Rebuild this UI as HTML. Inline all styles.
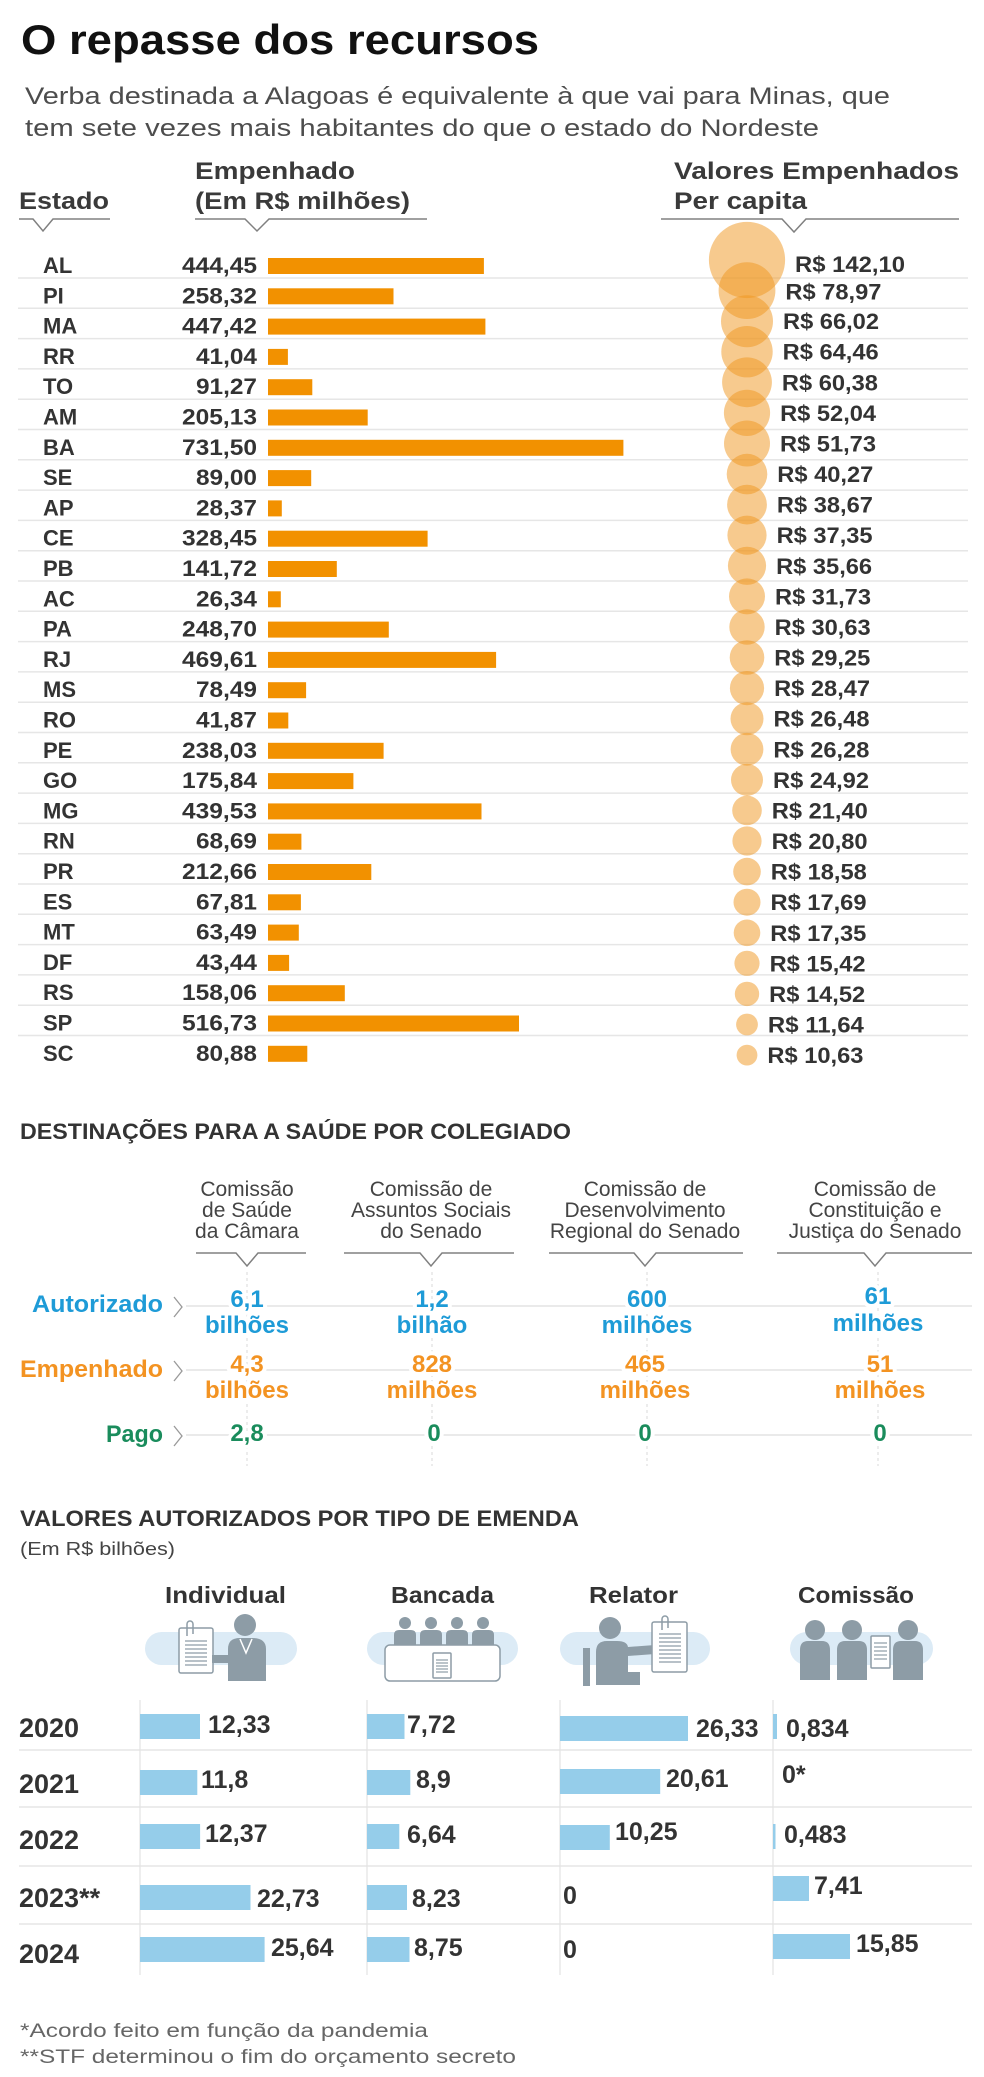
<!DOCTYPE html>
<html><head><meta charset="utf-8">
<style>
html,body{margin:0;padding:0;background:#fff;}
svg{display:block;}
text{font-family:"Liberation Sans",Arial,sans-serif;}
.b{font-weight:bold;}
.st{font-weight:bold;font-size:22px;fill:#333;}
.nm{font-weight:bold;font-size:22px;fill:#333;text-anchor:end;}
.rs{font-weight:bold;font-size:22px;fill:#333;}
.hd{font-weight:bold;font-size:24px;fill:#3a3a3a;}
.ch{font-size:21px;fill:#444;text-anchor:middle;}
.v{font-weight:bold;font-size:24px;text-anchor:middle;paint-order:stroke;stroke:#fff;stroke-width:8px;stroke-linejoin:round;}
.bl{fill:#1e9bd7;} .or{fill:#f39322;} .gr{fill:#1a8c5c;}
.yr{font-weight:bold;font-size:27px;fill:#333;}
.lb{font-weight:bold;font-size:25px;fill:#333;}
.ic{fill:#8d9ca6;}
.doc{fill:#fff;stroke:#8d9ca6;stroke-width:1.5;}
.dl{stroke:#8d9ca6;stroke-width:1.2;}
</style></head>
<body>
<svg width="984" height="2077" viewBox="0 0 984 2077" xmlns="http://www.w3.org/2000/svg">
<rect width="984" height="2077" fill="#fff"/>

<!-- Title -->
<text x="21" y="54" class="b" font-size="42" fill="#111" textLength="518" lengthAdjust="spacingAndGlyphs">O repasse dos recursos</text>
<text x="25" y="104" font-size="24" fill="#4d4d4d" textLength="865" lengthAdjust="spacingAndGlyphs">Verba destinada a Alagoas é equivalente à que vai para Minas, que</text>
<text x="25" y="136" font-size="24" fill="#4d4d4d" textLength="794" lengthAdjust="spacingAndGlyphs">tem sete vezes mais habitantes do que o estado do Nordeste</text>

<!-- Headers -->
<text x="19" y="209" class="hd" textLength="90" lengthAdjust="spacingAndGlyphs">Estado</text>
<text x="195" y="179" class="hd" textLength="160" lengthAdjust="spacingAndGlyphs">Empenhado</text>
<text x="195" y="209" class="hd" textLength="215" lengthAdjust="spacingAndGlyphs">(Em R$ milhões)</text>
<text x="674" y="179" class="hd" textLength="285" lengthAdjust="spacingAndGlyphs">Valores Empenhados</text>
<text x="674" y="209" class="hd" textLength="133" lengthAdjust="spacingAndGlyphs">Per capita</text>
<g fill="none" stroke="#808080" stroke-width="1.5">
<polyline points="19,219 33,219 43,231 53,219 110,219"/>
<polyline points="195,219 245,219 257,231 269,219 427,219"/>
<polyline points="661,219 782,219 794,232 806,219 959,219"/>
</g>

<!-- Separators -->
<g stroke="#e6e6e6" stroke-width="1.5">
<line x1="18" x2="968" y1="278" y2="278"/>
<line x1="18" x2="968" y1="308.3" y2="308.3"/>
<line x1="18" x2="968" y1="338.6" y2="338.6"/>
<line x1="18" x2="968" y1="368.9" y2="368.9"/>
<line x1="18" x2="968" y1="399.2" y2="399.2"/>
<line x1="18" x2="968" y1="429.5" y2="429.5"/>
<line x1="18" x2="968" y1="459.8" y2="459.8"/>
<line x1="18" x2="968" y1="490.1" y2="490.1"/>
<line x1="18" x2="968" y1="520.4" y2="520.4"/>
<line x1="18" x2="968" y1="550.7" y2="550.7"/>
<line x1="18" x2="968" y1="581" y2="581"/>
<line x1="18" x2="968" y1="611.3" y2="611.3"/>
<line x1="18" x2="968" y1="641.6" y2="641.6"/>
<line x1="18" x2="968" y1="671.9" y2="671.9"/>
<line x1="18" x2="968" y1="702.2" y2="702.2"/>
<line x1="18" x2="968" y1="732.5" y2="732.5"/>
<line x1="18" x2="968" y1="762.8" y2="762.8"/>
<line x1="18" x2="968" y1="793.1" y2="793.1"/>
<line x1="18" x2="968" y1="823.4" y2="823.4"/>
<line x1="18" x2="968" y1="853.7" y2="853.7"/>
<line x1="18" x2="968" y1="884" y2="884"/>
<line x1="18" x2="968" y1="914.3" y2="914.3"/>
<line x1="18" x2="968" y1="944.6" y2="944.6"/>
<line x1="18" x2="968" y1="974.9" y2="974.9"/>
<line x1="18" x2="968" y1="1005.2" y2="1005.2"/>
<line x1="18" x2="968" y1="1035.5" y2="1035.5"/>
</g>

<!-- Bubbles -->
<g fill="#f0961e" fill-opacity="0.5">
<circle cx="747" cy="260" r="38.1"/>
<circle cx="747" cy="290.6" r="28.4"/>
<circle cx="747" cy="321.2" r="26.0"/>
<circle cx="747" cy="351.7" r="25.7"/>
<circle cx="747" cy="382.3" r="24.9"/>
<circle cx="747" cy="412.9" r="23.1"/>
<circle cx="747" cy="443.5" r="23.0"/>
<circle cx="747" cy="474.1" r="20.3"/>
<circle cx="747" cy="504.6" r="19.9"/>
<circle cx="747" cy="535.2" r="19.6"/>
<circle cx="747" cy="565.8" r="19.1"/>
<circle cx="747" cy="596.4" r="18.0"/>
<circle cx="747" cy="627.0" r="17.7"/>
<circle cx="747" cy="657.5" r="17.3"/>
<circle cx="747" cy="688.1" r="17.1"/>
<circle cx="747" cy="718.7" r="16.5"/>
<circle cx="747" cy="749.3" r="16.4"/>
<circle cx="747" cy="779.9" r="16.0"/>
<circle cx="747" cy="810.4" r="14.8"/>
<circle cx="747" cy="841.0" r="14.6"/>
<circle cx="747" cy="871.6" r="13.8"/>
<circle cx="747" cy="902.2" r="13.5"/>
<circle cx="747" cy="932.8" r="13.3"/>
<circle cx="747" cy="963.3" r="12.6"/>
<circle cx="747" cy="993.9" r="12.2"/>
<circle cx="747" cy="1024.5" r="10.9"/>
<circle cx="747" cy="1055.1" r="10.4"/>
</g>

<!-- Bars -->
<g fill="#f29100">
<rect x="268" y="258" width="215.9" height="16"/>
<rect x="268" y="288.3" width="125.5" height="16"/>
<rect x="268" y="318.6" width="217.4" height="16"/>
<rect x="268" y="348.9" width="19.9" height="16"/>
<rect x="268" y="379.2" width="44.3" height="16"/>
<rect x="268" y="409.5" width="99.7" height="16"/>
<rect x="268" y="439.8" width="355.4" height="16"/>
<rect x="268" y="470.1" width="43.2" height="16"/>
<rect x="268" y="500.4" width="13.8" height="16"/>
<rect x="268" y="530.7" width="159.6" height="16"/>
<rect x="268" y="561" width="68.8" height="16"/>
<rect x="268" y="591.3" width="12.8" height="16"/>
<rect x="268" y="621.6" width="120.8" height="16"/>
<rect x="268" y="651.9" width="228.1" height="16"/>
<rect x="268" y="682.2" width="38.1" height="16"/>
<rect x="268" y="712.5" width="20.3" height="16"/>
<rect x="268" y="742.8" width="115.6" height="16"/>
<rect x="268" y="773.1" width="85.4" height="16"/>
<rect x="268" y="803.4" width="213.5" height="16"/>
<rect x="268" y="833.7" width="33.4" height="16"/>
<rect x="268" y="864" width="103.3" height="16"/>
<rect x="268" y="894.3" width="32.9" height="16"/>
<rect x="268" y="924.6" width="30.8" height="16"/>
<rect x="268" y="954.9" width="21.1" height="16"/>
<rect x="268" y="985.2" width="76.8" height="16"/>
<rect x="268" y="1015.5" width="251.0" height="16"/>
<rect x="268" y="1045.8" width="39.3" height="16"/>
</g>

<!-- State labels -->
<g>
<text x="43" y="273" class="st">AL</text>
<text x="43" y="303.3" class="st">PI</text>
<text x="43" y="333.6" class="st">MA</text>
<text x="43" y="363.9" class="st">RR</text>
<text x="43" y="394.2" class="st">TO</text>
<text x="43" y="424.5" class="st">AM</text>
<text x="43" y="454.8" class="st">BA</text>
<text x="43" y="485.1" class="st">SE</text>
<text x="43" y="515.4" class="st">AP</text>
<text x="43" y="545.7" class="st">CE</text>
<text x="43" y="576" class="st">PB</text>
<text x="43" y="606.3" class="st">AC</text>
<text x="43" y="636.6" class="st">PA</text>
<text x="43" y="666.9" class="st">RJ</text>
<text x="43" y="697.2" class="st">MS</text>
<text x="43" y="727.5" class="st">RO</text>
<text x="43" y="757.8" class="st">PE</text>
<text x="43" y="788.1" class="st">GO</text>
<text x="43" y="818.4" class="st">MG</text>
<text x="43" y="848.7" class="st">RN</text>
<text x="43" y="879" class="st">PR</text>
<text x="43" y="909.3" class="st">ES</text>
<text x="43" y="939.6" class="st">MT</text>
<text x="43" y="969.9" class="st">DF</text>
<text x="43" y="1000.2" class="st">RS</text>
<text x="43" y="1030.5" class="st">SP</text>
<text x="43" y="1060.8" class="st">SC</text>
</g>

<!-- Values -->
<g>
<text x="257" y="273" class="nm" textLength="75" lengthAdjust="spacingAndGlyphs">444,45</text>
<text x="257" y="303.3" class="nm" textLength="75" lengthAdjust="spacingAndGlyphs">258,32</text>
<text x="257" y="333.6" class="nm" textLength="75" lengthAdjust="spacingAndGlyphs">447,42</text>
<text x="257" y="363.9" class="nm" textLength="61" lengthAdjust="spacingAndGlyphs">41,04</text>
<text x="257" y="394.2" class="nm" textLength="61" lengthAdjust="spacingAndGlyphs">91,27</text>
<text x="257" y="424.5" class="nm" textLength="75" lengthAdjust="spacingAndGlyphs">205,13</text>
<text x="257" y="454.8" class="nm" textLength="75" lengthAdjust="spacingAndGlyphs">731,50</text>
<text x="257" y="485.1" class="nm" textLength="61" lengthAdjust="spacingAndGlyphs">89,00</text>
<text x="257" y="515.4" class="nm" textLength="61" lengthAdjust="spacingAndGlyphs">28,37</text>
<text x="257" y="545.7" class="nm" textLength="75" lengthAdjust="spacingAndGlyphs">328,45</text>
<text x="257" y="576" class="nm" textLength="75" lengthAdjust="spacingAndGlyphs">141,72</text>
<text x="257" y="606.3" class="nm" textLength="61" lengthAdjust="spacingAndGlyphs">26,34</text>
<text x="257" y="636.6" class="nm" textLength="75" lengthAdjust="spacingAndGlyphs">248,70</text>
<text x="257" y="666.9" class="nm" textLength="75" lengthAdjust="spacingAndGlyphs">469,61</text>
<text x="257" y="697.2" class="nm" textLength="61" lengthAdjust="spacingAndGlyphs">78,49</text>
<text x="257" y="727.5" class="nm" textLength="61" lengthAdjust="spacingAndGlyphs">41,87</text>
<text x="257" y="757.8" class="nm" textLength="75" lengthAdjust="spacingAndGlyphs">238,03</text>
<text x="257" y="788.1" class="nm" textLength="75" lengthAdjust="spacingAndGlyphs">175,84</text>
<text x="257" y="818.4" class="nm" textLength="75" lengthAdjust="spacingAndGlyphs">439,53</text>
<text x="257" y="848.7" class="nm" textLength="61" lengthAdjust="spacingAndGlyphs">68,69</text>
<text x="257" y="879" class="nm" textLength="75" lengthAdjust="spacingAndGlyphs">212,66</text>
<text x="257" y="909.3" class="nm" textLength="61" lengthAdjust="spacingAndGlyphs">67,81</text>
<text x="257" y="939.6" class="nm" textLength="61" lengthAdjust="spacingAndGlyphs">63,49</text>
<text x="257" y="969.9" class="nm" textLength="61" lengthAdjust="spacingAndGlyphs">43,44</text>
<text x="257" y="1000.2" class="nm" textLength="75" lengthAdjust="spacingAndGlyphs">158,06</text>
<text x="257" y="1030.5" class="nm" textLength="75" lengthAdjust="spacingAndGlyphs">516,73</text>
<text x="257" y="1060.8" class="nm" textLength="61" lengthAdjust="spacingAndGlyphs">80,88</text>
</g>

<!-- Per capita labels -->
<g>
<text x="795" y="272" class="rs" textLength="110" lengthAdjust="spacingAndGlyphs">R$ 142,10</text>
<text x="785.4" y="299.6" class="rs" textLength="96" lengthAdjust="spacingAndGlyphs">R$ 78,97</text>
<text x="783" y="329.2" class="rs" textLength="96" lengthAdjust="spacingAndGlyphs">R$ 66,02</text>
<text x="782.7" y="359.7" class="rs" textLength="96" lengthAdjust="spacingAndGlyphs">R$ 64,46</text>
<text x="781.9" y="390.3" class="rs" textLength="96" lengthAdjust="spacingAndGlyphs">R$ 60,38</text>
<text x="780.1" y="420.9" class="rs" textLength="96" lengthAdjust="spacingAndGlyphs">R$ 52,04</text>
<text x="780" y="451.5" class="rs" textLength="96" lengthAdjust="spacingAndGlyphs">R$ 51,73</text>
<text x="777.3" y="482.1" class="rs" textLength="96" lengthAdjust="spacingAndGlyphs">R$ 40,27</text>
<text x="776.9" y="512.6" class="rs" textLength="96" lengthAdjust="spacingAndGlyphs">R$ 38,67</text>
<text x="776.6" y="543.2" class="rs" textLength="96" lengthAdjust="spacingAndGlyphs">R$ 37,35</text>
<text x="776.1" y="573.8" class="rs" textLength="96" lengthAdjust="spacingAndGlyphs">R$ 35,66</text>
<text x="775" y="604.4" class="rs" textLength="96" lengthAdjust="spacingAndGlyphs">R$ 31,73</text>
<text x="774.7" y="635" class="rs" textLength="96" lengthAdjust="spacingAndGlyphs">R$ 30,63</text>
<text x="774.3" y="665.5" class="rs" textLength="96" lengthAdjust="spacingAndGlyphs">R$ 29,25</text>
<text x="774.1" y="696.1" class="rs" textLength="96" lengthAdjust="spacingAndGlyphs">R$ 28,47</text>
<text x="773.5" y="726.7" class="rs" textLength="96" lengthAdjust="spacingAndGlyphs">R$ 26,48</text>
<text x="773.4" y="757.3" class="rs" textLength="96" lengthAdjust="spacingAndGlyphs">R$ 26,28</text>
<text x="773" y="787.9" class="rs" textLength="96" lengthAdjust="spacingAndGlyphs">R$ 24,92</text>
<text x="771.8" y="818.4" class="rs" textLength="96" lengthAdjust="spacingAndGlyphs">R$ 21,40</text>
<text x="771.6" y="849" class="rs" textLength="96" lengthAdjust="spacingAndGlyphs">R$ 20,80</text>
<text x="770.8" y="879.6" class="rs" textLength="96" lengthAdjust="spacingAndGlyphs">R$ 18,58</text>
<text x="770.5" y="910.2" class="rs" textLength="96" lengthAdjust="spacingAndGlyphs">R$ 17,69</text>
<text x="770.3" y="940.8" class="rs" textLength="96" lengthAdjust="spacingAndGlyphs">R$ 17,35</text>
<text x="769.6" y="971.3" class="rs" textLength="96" lengthAdjust="spacingAndGlyphs">R$ 15,42</text>
<text x="769.2" y="1001.9" class="rs" textLength="96" lengthAdjust="spacingAndGlyphs">R$ 14,52</text>
<text x="767.9" y="1032.5" class="rs" textLength="96" lengthAdjust="spacingAndGlyphs">R$ 11,64</text>
<text x="767.4" y="1063.1" class="rs" textLength="96" lengthAdjust="spacingAndGlyphs">R$ 10,63</text>
</g>

<!-- ===== DESTINAÇÕES ===== -->
<text x="20" y="1139" class="b" font-size="22" fill="#333" textLength="551" lengthAdjust="spacingAndGlyphs">DESTINAÇÕES PARA A SAÚDE POR COLEGIADO</text>

<text x="247" y="1196" class="ch">Comissão</text>
<text x="247" y="1217" class="ch">de Saúde</text>
<text x="247" y="1238" class="ch">da Câmara</text>
<text x="431" y="1196" class="ch">Comissão de</text>
<text x="431" y="1217" class="ch">Assuntos Sociais</text>
<text x="431" y="1238" class="ch">do Senado</text>
<text x="645" y="1196" class="ch">Comissão de</text>
<text x="645" y="1217" class="ch">Desenvolvimento</text>
<text x="645" y="1238" class="ch">Regional do Senado</text>
<text x="875" y="1196" class="ch">Comissão de</text>
<text x="875" y="1217" class="ch">Constituição e</text>
<text x="875" y="1238" class="ch">Justiça do Senado</text>

<g fill="none" stroke="#808080" stroke-width="1.5">
<polyline points="196,1253 236,1253 247,1266 258,1253 306,1253"/>
<polyline points="344,1253 420,1253 431,1266 442,1253 514,1253"/>
<polyline points="549,1253 634,1253 645,1266 656,1253 743,1253"/>
<polyline points="777,1253 864,1253 875,1266 886,1253 972,1253"/>
</g>

<g stroke="#e0e0e0" stroke-width="1.2" stroke-dasharray="3,3">
<line x1="247" x2="247" y1="1272" y2="1466"/>
<line x1="432" x2="432" y1="1272" y2="1466"/>
<line x1="647" x2="647" y1="1272" y2="1466"/>
<line x1="878" x2="878" y1="1272" y2="1466"/>
</g>
<g stroke="#e3e3e3" stroke-width="1.5">
<line x1="186" x2="972" y1="1306" y2="1306"/>
<line x1="186" x2="972" y1="1370" y2="1370"/>
<line x1="186" x2="972" y1="1435" y2="1435"/>
</g>
<g fill="none" stroke="#999" stroke-width="1.3">
<polyline points="174,1297 182,1307 174,1317"/>
<polyline points="174,1361 182,1371 174,1381"/>
<polyline points="174,1426 182,1436 174,1446"/>
</g>
<text x="163" y="1312" class="b bl" font-size="24" text-anchor="end" textLength="131" lengthAdjust="spacingAndGlyphs">Autorizado</text>
<text x="163" y="1377" class="b or" font-size="24" text-anchor="end" textLength="143" lengthAdjust="spacingAndGlyphs">Empenhado</text>
<text x="163" y="1442" class="b gr" font-size="24" text-anchor="end" textLength="57" lengthAdjust="spacingAndGlyphs">Pago</text>

<text x="247" y="1307" class="v bl">6,1</text>
<text x="247" y="1333" class="v bl">bilhões</text>
<text x="432" y="1307" class="v bl">1,2</text>
<text x="432" y="1333" class="v bl">bilhão</text>
<text x="647" y="1307" class="v bl">600</text>
<text x="647" y="1333" class="v bl">milhões</text>
<text x="878" y="1304" class="v bl">61</text>
<text x="878" y="1331" class="v bl">milhões</text>

<text x="247" y="1372" class="v or">4,3</text>
<text x="247" y="1398" class="v or">bilhões</text>
<text x="432" y="1372" class="v or">828</text>
<text x="432" y="1398" class="v or">milhões</text>
<text x="645" y="1372" class="v or">465</text>
<text x="645" y="1398" class="v or">milhões</text>
<text x="880" y="1372" class="v or">51</text>
<text x="880" y="1398" class="v or">milhões</text>

<text x="247" y="1441" class="v gr">2,8</text>
<text x="434" y="1441" class="v gr">0</text>
<text x="645" y="1441" class="v gr">0</text>
<text x="880" y="1441" class="v gr">0</text>

<!-- ===== VALORES AUTORIZADOS ===== -->
<text x="20" y="1526" class="b" font-size="22" fill="#333" textLength="559" lengthAdjust="spacingAndGlyphs">VALORES AUTORIZADOS POR TIPO DE EMENDA</text>
<text x="20" y="1555" font-size="18" fill="#444" textLength="155" lengthAdjust="spacingAndGlyphs">(Em R$ bilhões)</text>

<text x="165" y="1603" class="b" font-size="23" fill="#333" textLength="121" lengthAdjust="spacingAndGlyphs">Individual</text>
<text x="391" y="1603" class="b" font-size="23" fill="#333" textLength="103" lengthAdjust="spacingAndGlyphs">Bancada</text>
<text x="589" y="1603" class="b" font-size="23" fill="#333" textLength="89" lengthAdjust="spacingAndGlyphs">Relator</text>
<text x="798" y="1603" class="b" font-size="23" fill="#333" textLength="116" lengthAdjust="spacingAndGlyphs">Comissão</text>

<!-- Icons -->
<g>
<rect x="145" y="1632" width="152" height="33" rx="16.5" fill="#dcebf6"/>
<rect x="367" y="1632" width="151" height="33" rx="16.5" fill="#dcebf6"/>
<rect x="560" y="1632" width="150" height="33" rx="16.5" fill="#dcebf6"/>
<rect x="790" y="1632" width="143" height="33" rx="16.5" fill="#dcebf6"/>

<!-- Individual -->
<rect x="179" y="1628" width="34" height="45" rx="2" class="doc"/>
<g class="dl">
<line x1="185" x2="207" y1="1641" y2="1641"/><line x1="185" x2="207" y1="1645" y2="1645"/>
<line x1="185" x2="207" y1="1649" y2="1649"/><line x1="185" x2="207" y1="1653" y2="1653"/>
<line x1="185" x2="207" y1="1657" y2="1657"/><line x1="185" x2="207" y1="1661" y2="1661"/>
<line x1="185" x2="207" y1="1665" y2="1665"/>
</g>
<path d="M187 1636 V1624 a3 3 0 0 1 6 0 V1634" fill="none" stroke="#8d9ca6" stroke-width="1.5"/>
<circle cx="245" cy="1625" r="11" class="ic"/>
<path d="M228 1681 V1649 Q228 1638 240 1638 H252 Q266 1638 266 1649 V1681 Z" class="ic"/>
<rect x="212" y="1655" width="24" height="8" class="ic"/>
<path d="M240 1639 L246 1653 L252 1639" fill="none" stroke="#fff" stroke-width="1.5"/>

<!-- Bancada -->
<circle cx="405" cy="1623" r="6" class="ic"/>
<circle cx="431" cy="1623" r="6" class="ic"/>
<circle cx="457" cy="1623" r="6" class="ic"/>
<circle cx="483" cy="1623" r="6" class="ic"/>
<path d="M394 1646 V1635 Q394 1630 399 1630 H411 Q416 1630 416 1635 V1646 Z" class="ic"/>
<path d="M420 1646 V1635 Q420 1630 425 1630 H437 Q442 1630 442 1635 V1646 Z" class="ic"/>
<path d="M446 1646 V1635 Q446 1630 451 1630 H463 Q468 1630 468 1635 V1646 Z" class="ic"/>
<path d="M472 1646 V1635 Q472 1630 477 1630 H489 Q494 1630 494 1635 V1646 Z" class="ic"/>
<rect x="385" y="1645" width="115" height="36" rx="5" class="doc"/>
<rect x="433" y="1653" width="18" height="25" rx="1" class="doc"/>
<g class="dl">
<line x1="436" x2="448" y1="1660" y2="1660"/><line x1="436" x2="448" y1="1663" y2="1663"/>
<line x1="436" x2="448" y1="1666" y2="1666"/><line x1="436" x2="448" y1="1669" y2="1669"/>
<line x1="436" x2="448" y1="1672" y2="1672"/>
</g>

<!-- Relator -->
<circle cx="610" cy="1628" r="11" class="ic"/>
<rect x="583" y="1648" width="7" height="38" class="ic"/>
<path d="M596 1685 V1652 Q596 1641 607 1641 H617 Q627 1641 628 1647 L655 1645 V1654 L628 1656 V1672 H640 V1685 Z" class="ic"/>
<rect x="652" y="1622" width="35" height="50" rx="2" class="doc"/>
<g class="dl">
<line x1="659" x2="681" y1="1634" y2="1634"/><line x1="659" x2="681" y1="1638" y2="1638"/>
<line x1="659" x2="681" y1="1642" y2="1642"/><line x1="659" x2="681" y1="1646" y2="1646"/>
<line x1="659" x2="681" y1="1650" y2="1650"/><line x1="659" x2="681" y1="1654" y2="1654"/>
<line x1="659" x2="681" y1="1658" y2="1658"/><line x1="659" x2="681" y1="1662" y2="1662"/>
</g>
<path d="M662 1630 V1619 a3 3 0 0 1 6 0 V1628" fill="none" stroke="#8d9ca6" stroke-width="1.5"/>

<!-- Comissão -->
<circle cx="815" cy="1630" r="10" class="ic"/>
<circle cx="852" cy="1630" r="10" class="ic"/>
<circle cx="908" cy="1630" r="10" class="ic"/>
<path d="M800 1680 V1650 Q800 1641 808 1641 H822 Q830 1641 830 1650 V1680 Z" class="ic"/>
<path d="M837 1680 V1650 Q837 1641 845 1641 H859 Q867 1641 867 1650 V1680 Z" class="ic"/>
<path d="M893 1680 V1650 Q893 1641 901 1641 H915 Q923 1641 923 1650 V1680 Z" class="ic"/>
<rect x="871" y="1636" width="19" height="32" rx="1" class="doc"/>
<g class="dl">
<line x1="874" x2="887" y1="1643" y2="1643"/><line x1="874" x2="887" y1="1647" y2="1647"/>
<line x1="874" x2="887" y1="1651" y2="1651"/><line x1="874" x2="887" y1="1655" y2="1655"/>
<line x1="874" x2="887" y1="1659" y2="1659"/>
</g>
</g>

<!-- Grid -->
<g stroke="#e6e6e6" stroke-width="1.5">
<line x1="19" x2="972" y1="1750" y2="1750"/>
<line x1="19" x2="972" y1="1807" y2="1807"/>
<line x1="19" x2="972" y1="1866" y2="1866"/>
<line x1="19" x2="972" y1="1924" y2="1924"/>
</g>
<g stroke="#e3e3e3" stroke-width="1.2">
<line x1="140" x2="140" y1="1700" y2="1975"/>
<line x1="367" x2="367" y1="1700" y2="1975"/>
<line x1="560" x2="560" y1="1700" y2="1975"/>
<line x1="773" x2="773" y1="1700" y2="1975"/>
</g>

<!-- Years -->
<text x="19" y="1737" class="yr">2020</text>
<text x="19" y="1793" class="yr">2021</text>
<text x="19" y="1849" class="yr">2022</text>
<text x="19" y="1907" class="yr">2023**</text>
<text x="19" y="1963" class="yr">2024</text>

<!-- Blue bars -->
<g fill="#95cdea">
<rect x="140" y="1714" width="60" height="25"/>
<rect x="367" y="1714" width="37.5" height="25"/>
<rect x="560" y="1716" width="128" height="25"/>
<rect x="773" y="1714" width="4" height="25"/>

<rect x="140" y="1770" width="57.3" height="25"/>
<rect x="367" y="1770" width="43.3" height="25"/>
<rect x="560" y="1769" width="100.2" height="25"/>

<rect x="140" y="1824" width="60.1" height="25"/>
<rect x="367" y="1824" width="32.3" height="25"/>
<rect x="560" y="1825" width="49.8" height="25"/>
<rect x="773" y="1824" width="2.5" height="25"/>

<rect x="140" y="1885" width="110.5" height="25"/>
<rect x="367" y="1885" width="40" height="25"/>
<rect x="773" y="1876" width="36" height="25"/>

<rect x="140" y="1937" width="124.6" height="25"/>
<rect x="367" y="1937" width="42.5" height="25"/>
<rect x="773" y="1934" width="77" height="25"/>
</g>

<!-- Bar labels -->
<text x="208" y="1733" class="lb">12,33</text>
<text x="407" y="1733" class="lb">7,72</text>
<text x="696" y="1737" class="lb">26,33</text>
<text x="786" y="1737" class="lb">0,834</text>

<text x="201" y="1788" class="lb">11,8</text>
<text x="416" y="1788" class="lb">8,9</text>
<text x="666" y="1787" class="lb">20,61</text>
<text x="782" y="1783" class="lb">0*</text>

<text x="205" y="1842" class="lb">12,37</text>
<text x="407" y="1843" class="lb">6,64</text>
<text x="615" y="1840" class="lb">10,25</text>
<text x="784" y="1843" class="lb">0,483</text>

<text x="257" y="1907" class="lb">22,73</text>
<text x="412" y="1907" class="lb">8,23</text>
<text x="563" y="1904" class="lb">0</text>
<text x="814" y="1894" class="lb">7,41</text>

<text x="271" y="1956" class="lb">25,64</text>
<text x="414" y="1956" class="lb">8,75</text>
<text x="563" y="1958" class="lb">0</text>
<text x="856" y="1952" class="lb">15,85</text>

<!-- Footnotes -->
<text x="20" y="2037" font-size="19" fill="#666" textLength="408" lengthAdjust="spacingAndGlyphs">*Acordo feito em função da pandemia</text>
<text x="20" y="2063" font-size="19" fill="#666" textLength="496" lengthAdjust="spacingAndGlyphs">**STF determinou o fim do orçamento secreto</text>
</svg>
</body></html>
